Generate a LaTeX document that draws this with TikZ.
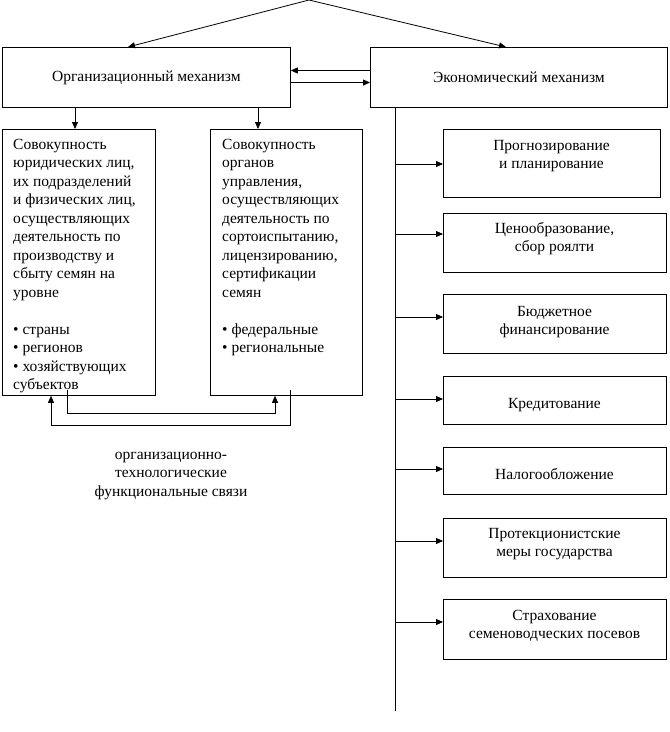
\documentclass[tikz,border=0pt]{standalone}
\usepackage{fontspec}
\setmainfont{Liberation Serif}
\usetikzlibrary{arrows.meta,calc}
\newcommand{\st}{\rule{0pt}{13pt}}
\begin{document}
\begin{tikzpicture}[x=1pt,y=-1pt,
  font=\fontsize{15.5}{18.5}\selectfont,
  box/.style={draw, line width=0.8pt, anchor=north west, inner sep=0pt},
  txt/.style={inner sep=0pt, align=left, anchor=north west},
  ctxt/.style={inner sep=0pt, align=center, anchor=north},
  arr/.style={line width=0.8pt, -{Triangle[length=7pt,width=6pt]}},
  ln/.style={line width=0.8pt}]
\useasboundingbox (0,0) rectangle (670,732);
% top boxes
\node[box, minimum width=288pt, minimum height=60pt] (org) at (2,47) {Организационный механизм};
\node[box, minimum width=297pt, minimum height=60pt] (eco) at (370,47) {Экономический механизм};
\coordinate (apex) at (309,0);
\draw[arr] (apex) -- ($(org.north west)+(126,0)$);
\draw[arr] (apex) -- ($(eco.north west)+(136,0)$);
\draw[arr] (eco.west |- 0,70.5) -- (org.east |- 0,70.5);
\draw[arr] (org.east |- 0,82.5) -- (eco.west |- 0,82.5);
% left boxes
\node[box, minimum width=153pt, minimum height=266pt] (L) at (2,129) {};
\node[box, minimum width=152pt, minimum height=266pt] (M) at (210,129) {};
\draw[arr] (org.south -| 75,0) -- (L.north -| 75,0);
\draw[arr] (org.south -| 258,0) -- (M.north -| 258,0);
\node[txt] (Ltxt) at (13,136) {\st Совокупность\\юридических лиц,\\их подразделений\\и физических лиц,\\осуществляющих\\деятельность по\\производству и\\сбыту семян на\\уровне\\[18.5pt]• страны\\• регионов\\• хозяйствующих\\субъектов};
\node[txt] (Mtxt) at (222,136) {\st Совокупность\\органов\\управления,\\осуществляющих\\деятельность по\\сортоиспытанию,\\лицензированию,\\сертификации\\семян\\[18.5pt]• федеральные\\• региональные};
% bottom connectors
\coordinate (ma) at (290,390);
\coordinate (lb) at (67,390);
\draw[arr] (ma) |- (51,425) -- (L.south -| 51,0);
\draw[arr] (lb) |- (275,413) -- (M.south -| 275,0);
\node[ctxt] (cap) at (171,446) {\st организационно-\\технологические\\функциональные связи};
% spine
\coordinate (spend) at (395,711);
\draw[ln] (eco.south -| spend) -- (spend);
% right boxes
\node[box, minimum width=217pt, minimum height=68pt] (R1) at (443,129) {};
\node[box, minimum width=223pt, minimum height=59pt] (R2) at (443,213) {};
\node[box, minimum width=223pt, minimum height=59pt] (R3) at (443,294) {};
\node[box, minimum width=223pt, minimum height=48pt] (R4) at (443,376) {};
\node[box, minimum width=223pt, minimum height=47pt] (R5) at (443,447) {};
\node[box, minimum width=223pt, minimum height=59pt] (R6) at (443,518) {};
\node[box, minimum width=223pt, minimum height=60pt] (R7) at (443,599) {};
\node[ctxt] (T1) at (551.5,137) {\st Прогнозирование\\и планирование};
\node[ctxt] (T2) at (554.5,220) {\st Ценообразование,\\сбор роялти};
\node[ctxt] (T3) at (554.5,303) {\st Бюджетное\\финансирование};
\node[ctxt] (T4) at (554.5,395) {\st Кредитование};
\node[ctxt] (T5) at (554.5,466) {\st Налогообложение};
\node[ctxt] (T6) at (554.5,525) {\st Протекционистские\\меры государства};
\node[ctxt] (T7) at (554.5,607) {\st Страхование\\семеноводческих посевов};
\draw[arr] (spend |- 0,164) -- (R1.west |- 0,164);
\draw[arr] (spend |- 0,234) -- (R2.west |- 0,234);
\draw[arr] (spend |- 0,317) -- (R3.west |- 0,317);
\draw[arr] (spend |- 0,399) -- (R4.west |- 0,399);
\draw[arr] (spend |- 0,469) -- (R5.west |- 0,469);
\draw[arr] (spend |- 0,541) -- (R6.west |- 0,541);
\draw[arr] (spend |- 0,622) -- (R7.west |- 0,622);
\end{tikzpicture}
\end{document}
